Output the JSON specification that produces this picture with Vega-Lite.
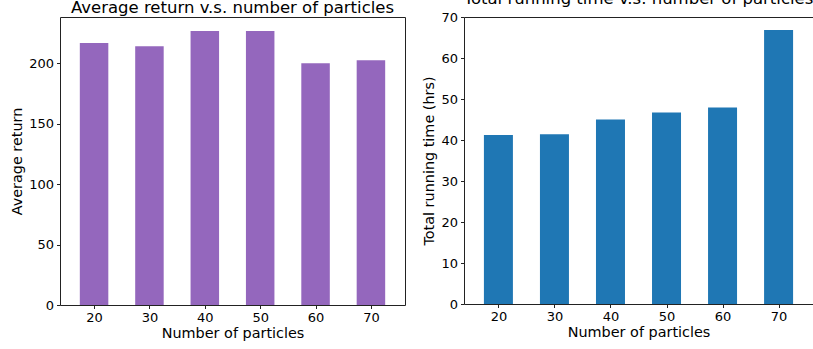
{
  "$schema": "https://vega.github.io/schema/vega-lite/v6.json",
  "background": "white",
  "padding": {"left": 9, "top": -10, "right": 0, "bottom": 0},
  "spacing": 15,
  "config": {
    "font": "DejaVu Sans",
    "view": {"stroke": "#222", "strokeWidth": 1},
    "axis": {
      "domain": false,
      "grid": false,
      "ticks": true,
      "tickSize": 3.5,
      "tickColor": "#222",
      "tickWidth": 1,
      "labelFont": "DejaVu Sans",
      "labelFontSize": 13,
      "labelColor": "black",
      "labelPadding": 3,
      "titleFont": "DejaVu Sans",
      "titleFontSize": 14.4,
      "titleFontWeight": "normal",
      "titleColor": "black"
    },
    "title": {"font": "DejaVu Sans", "fontSize": 16.5, "fontWeight": "normal", "color": "black", "anchor": "middle", "baseline": "alphabetic", "offset": 1}
  },
  "datasets": {
    "ret": [
      {"particles": 20, "value": 216.7},
      {"particles": 30, "value": 214.2},
      {"particles": 40, "value": 226.7},
      {"particles": 50, "value": 226.7},
      {"particles": 60, "value": 200.0},
      {"particles": 70, "value": 202.5}
    ],
    "time": [
      {"particles": 20, "value": 41.2},
      {"particles": 30, "value": 41.4},
      {"particles": 40, "value": 45.0},
      {"particles": 50, "value": 46.7},
      {"particles": 60, "value": 47.95},
      {"particles": 70, "value": 66.8}
    ]
  },
  "hconcat": [
    {
      "title": {"text": "Average return v.s. number of particles"},
      "width": 345,
      "height": 288,
      "data": {"name": "ret"},
      "mark": {"type": "bar", "color": "#9467bd", "width": 28.5},
      "encoding": {
        "x": {"field": "particles", "type": "quantitative", "title": "Number of particles",
              "scale": {"domain": [14.75, 75.25], "nice": false, "zero": false},
              "axis": {"values": [20, 30, 40, 50, 60, 70], "format": "d", "titlePadding": 2}},
        "y": {"field": "value", "type": "quantitative", "title": "Average return",
              "scale": {"domain": [0, 238.3], "nice": false},
              "axis": {"values": [0, 50, 100, 150, 200], "titlePadding": 4}}
      }
    },
    {
      "title": {"text": "Total running time v.s. number of particles", "offset": 4},
      "width": 349,
      "height": 287,
      "data": {"name": "time"},
      "mark": {"type": "bar", "color": "#1f77b4", "width": 29},
      "encoding": {
        "x": {"field": "particles", "type": "quantitative", "title": "Number of particles",
              "scale": {"domain": [14.75, 75.25], "nice": false, "zero": false},
              "axis": {"values": [20, 30, 40, 50, 60, 70], "format": "d", "titlePadding": 2}},
        "y": {"field": "value", "type": "quantitative", "title": "Total running time (hrs)",
              "scale": {"domain": [0, 70], "nice": false},
              "axis": {"values": [0, 10, 20, 30, 40, 50, 60, 70], "titlePadding": 4}}
      }
    }
  ]
}
